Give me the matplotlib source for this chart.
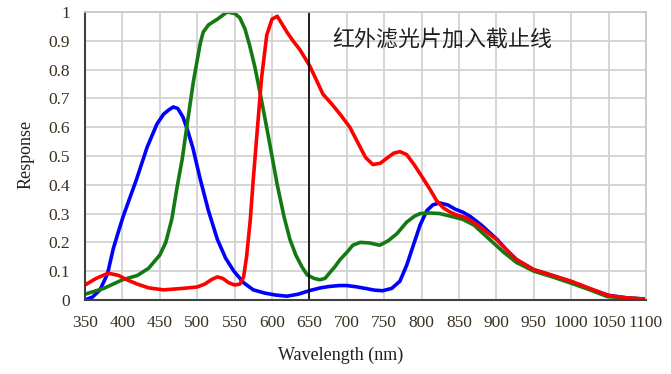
import numpy as np
import matplotlib.pyplot as plt

# spectral response curves
blue_nm = [350, 360, 370, 380, 388, 395, 401, 410, 419, 433, 446, 455, 462, 468,
           474, 481, 487, 494, 504, 515, 527, 538, 549, 562, 575, 590, 605, 620,
           635, 651, 665, 677, 690, 700, 712, 725, 737, 748, 760, 771, 780, 789,
           798, 807, 815, 824, 835, 845, 855, 865, 880, 901, 915, 927, 940, 950,
           975, 1000, 1025, 1050, 1075, 1100]
blue_val = [0.0, 0.01, 0.035, 0.09, 0.18, 0.24, 0.29, 0.355, 0.42, 0.53, 0.61,
            0.645, 0.66, 0.67, 0.665, 0.635, 0.59, 0.53, 0.42, 0.31, 0.21, 0.145,
            0.10, 0.06, 0.035, 0.024, 0.017, 0.013, 0.02, 0.033, 0.042, 0.047,
            0.05, 0.05, 0.046, 0.04, 0.034, 0.032, 0.04, 0.065, 0.12, 0.19,
            0.26, 0.31, 0.33, 0.337, 0.33, 0.315, 0.305, 0.29, 0.26, 0.21, 0.17,
            0.14, 0.12, 0.105, 0.085, 0.063, 0.038, 0.016, 0.007, 0.003]

green_nm = [350, 375, 400, 420, 435, 450, 458, 466, 473, 480, 486, 495, 504, 508,
            515, 527, 540, 550, 557, 564, 570, 577, 584, 595, 607, 616, 624, 632,
            640, 647, 656, 664, 671, 677, 684, 691, 700, 708, 718, 730, 744, 755,
            767, 780, 790, 798, 810, 824, 840, 855, 870, 891, 910, 927, 950, 975,
            998, 1025, 1048, 1075, 1100]
green_val = [0.02, 0.04, 0.07, 0.085, 0.11, 0.156, 0.2, 0.28, 0.39, 0.49, 0.60,
             0.76, 0.89, 0.93, 0.955, 0.975, 1.0, 0.995, 0.98, 0.94, 0.885, 0.81,
             0.72, 0.57, 0.40, 0.29, 0.21, 0.155, 0.115, 0.087, 0.075, 0.07,
             0.075, 0.094, 0.115, 0.14, 0.165, 0.19, 0.2, 0.198, 0.19, 0.205,
             0.23, 0.27, 0.29, 0.30, 0.302, 0.30, 0.29, 0.28, 0.26, 0.21, 0.165,
             0.13, 0.1, 0.08, 0.06, 0.035, 0.012, 0.006, 0.003]

red_nm = [350, 365, 381, 395, 406, 420, 435, 455, 480, 500, 510, 520, 527, 534,
          542, 550, 557, 562, 566, 571, 575, 580, 586, 593, 600, 607, 613, 620,
          628, 637, 650, 660, 668, 680, 691, 704, 715, 725, 735, 745, 755, 763,
          771, 780, 790, 800, 811, 820, 829, 838, 847, 860, 875, 900, 915, 927,
          950, 975, 1000, 1025, 1050, 1075, 1100]
red_val = [0.052, 0.075, 0.093, 0.085, 0.07, 0.055, 0.042, 0.035, 0.04, 0.045,
           0.055, 0.072, 0.08, 0.075, 0.06, 0.052, 0.055, 0.08, 0.15, 0.28,
           0.42, 0.58, 0.77, 0.92, 0.975, 0.985, 0.96, 0.93, 0.9, 0.87, 0.815,
           0.76, 0.715, 0.68, 0.645, 0.6, 0.545, 0.495, 0.47, 0.475, 0.495,
           0.51, 0.515, 0.505, 0.47, 0.43, 0.385, 0.345, 0.32, 0.305, 0.295,
           0.285, 0.26, 0.21, 0.17, 0.14, 0.105, 0.085, 0.065, 0.04, 0.015,
           0.007, 0.003]

x_ticks = list(range(350, 1101, 50))
y_ticks = [0, 0.1, 0.2, 0.3, 0.4, 0.5, 0.6, 0.7, 0.8, 0.9, 1]
cutoff_nm = 650
note = "红外滤光片加入截止线"

fig = plt.figure(figsize=(6.71, 3.74), dpi=100)
ax = fig.add_axes([0.1267, 0.198, 0.836, 0.770])

line_kw = dict(lw=2.6, solid_capstyle="round", solid_joinstyle="round")
ax.plot(blue_nm, blue_val, color="#0000ff", **line_kw)
ax.plot(green_nm, green_val, color="#137a13", **line_kw)
ax.plot(red_nm, red_val, color="#ff0000", **line_kw)

ax.axvline(cutoff_nm, color="black", lw=1.2)

ax.set_xlim(350, 1100)
ax.set_ylim(0, 1)
ax.set_xticks(x_ticks)
ax.set_yticks(y_ticks)
ax.set_xticklabels([str(v) for v in x_ticks])
ax.set_yticklabels(["%g" % v for v in y_ticks])
ax.grid(True, color="#d2d2d2", lw=1.3)
ax.set_axisbelow(True)

for lab in ax.get_xticklabels() + ax.get_yticklabels():
    lab.set_family("Liberation Serif")
    lab.set_fontsize(12.5)
    lab.set_color("#3a3020")
ax.tick_params(axis="x", length=0, pad=11)
ax.tick_params(axis="y", length=0, pad=11)

for s in ["top", "right"]:
    ax.spines[s].set_color("#c8c8c8")
    ax.spines[s].set_linewidth(1.3)
for s in ["left", "bottom"]:
    ax.spines[s].set_color("#404040")
    ax.spines[s].set_linewidth(1.5)

fig.text(341 / 671, 1 - 355 / 374, "Wavelength (nm)", family="Liberation Serif",
         fontsize=13, color="#202020", ha="center", va="center")
fig.text(26 / 671, 1 - 154 / 374, "Response", family="Liberation Serif",
         fontsize=13, color="#202020", ha="center", va="center", rotation=90)

ax.text(681, 0.90, note, family=["Noto Sans CJK SC", "DejaVu Sans"],
        fontsize=15.8, color="#202020", va="center", ha="left")

fig.savefig("out.png", dpi=100)
